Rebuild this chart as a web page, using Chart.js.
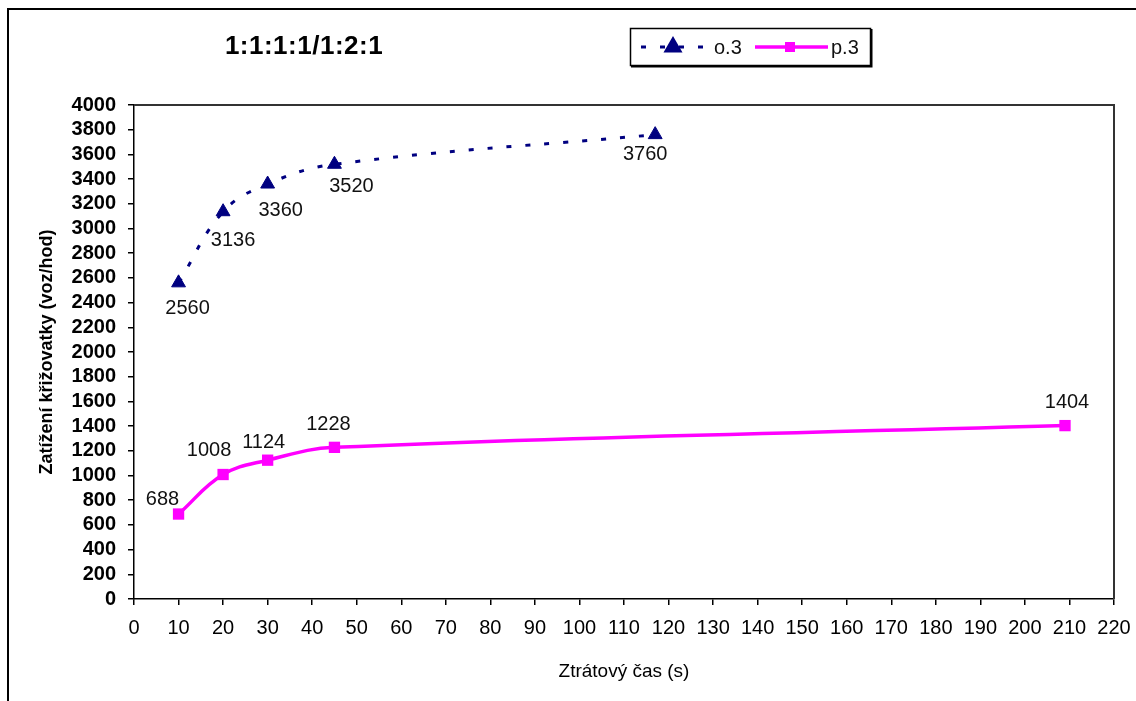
<!DOCTYPE html>
<html>
<head>
<meta charset="utf-8">
<title>1:1:1:1/1:2:1</title>
<script src="https://cdn.jsdelivr.net/npm/chart.js@4.4.1/dist/chart.umd.min.js"></script>
<style>
    html, body { margin: 0; padding: 0; background: #fff; overflow: hidden; }
    #wrap { position: relative; width: 1136px; height: 701px; }
    #frame { position: absolute; left: 7px; top: 8px; width: 1140px; height: 700px;
             border-left: 2px solid #000; border-top: 2px solid #000; }
    canvas { position: absolute; left: 0; top: 0; }
</style>
</head>
<body>
<div id="wrap">
    <div id="frame"></div>
    <canvas id="chart" width="1136" height="701"></canvas>
</div>
<script>
// Values
const o3Time = [10, 20, 30, 45, 117];
const o3Load = [2560, 3136, 3360, 3520, 3760];
const p3Time = [10, 20, 30, 45, 209];
const p3Load = [688, 1008, 1124, 1228, 1404];
const seriesNames = ['o.3', 'p.3'];
const xMin = 0, xMax = 220, xStep = 10;
const yMin = 0, yMax = 4000, yStep = 200;

const chartTitle = '1:1:1:1/1:2:1';
const xTitle = 'Ztrátový čas (s)';
const yTitle = 'Zatížení křižovatky (voz/hod)';

const FONT = '"Liberation Sans", Arial, sans-serif';

// where each value label sits relative to its point (px)
const labelOffsets = [
    [[9, 26], [10, 29], [13, 26], [17, 22], [-10, 20]],
    [[-16, -15], [-14, -24], [-4, -18], [-6, -23], [2, -23]]
];

function toPoints(xs, ys) {
    return xs.map((x, i) => ({ x: x, y: ys[i] }));
}

// Frame around the plot area (top and right edges)
const plotFrame = {
    id: 'plotFrame',
    beforeDatasetsDraw(chart) {
        const a = chart.chartArea;
        const ctx = chart.ctx;
        ctx.save();
        ctx.strokeStyle = '#333';
        ctx.lineWidth = 2;
        ctx.beginPath();
        ctx.moveTo(a.left, a.top);
        ctx.lineTo(a.right, a.top);
        ctx.lineTo(a.right, a.bottom);
        ctx.stroke();
        ctx.restore();
    }
};

// Numbers next to every marker
const valueLabels = {
    id: 'valueLabels',
    afterDatasetsDraw(chart) {
        const ctx = chart.ctx;
        ctx.save();
        ctx.font = '20px ' + FONT;
        ctx.fillStyle = '#111';
        ctx.textAlign = 'center';
        ctx.textBaseline = 'middle';
        chart.data.datasets.forEach((ds, i) => {
            chart.getDatasetMeta(i).data.forEach((pt, j) => {
                const off = labelOffsets[i][j];
                ctx.fillText(String(ds.data[j].y), pt.x + off[0], pt.y + off[1]);
            });
        });
        ctx.restore();
    }
};

// Title and the boxed legend at the top
const header = {
    id: 'header',
    afterDraw(chart) {
        const ctx = chart.ctx;
        const ds = chart.data.datasets;
        ctx.save();

        ctx.font = 'bold 26px ' + FONT;
        ctx.letterSpacing = '0.5px';
        ctx.fillStyle = '#000';
        ctx.textAlign = 'center';
        ctx.textBaseline = 'middle';
        ctx.fillText(chartTitle, 304, 47);
        ctx.letterSpacing = '0px';

        // legend box
        ctx.strokeStyle = '#000';
        ctx.lineWidth = 1.5;
        ctx.strokeRect(630.5, 28.5, 240, 37);
        ctx.lineWidth = 2;
        ctx.beginPath();
        ctx.moveTo(631, 66.5);
        ctx.lineTo(871.5, 66.5);
        ctx.lineTo(871.5, 29);
        ctx.stroke();

        const y = 47;
        // o.3 sample
        ctx.strokeStyle = ds[0].borderColor;
        ctx.lineWidth = 3;
        ctx.setLineDash([5, 14]);
        ctx.lineDashOffset = 0;
        ctx.beginPath();
        ctx.moveTo(641, y);
        ctx.lineTo(711, y);
        ctx.stroke();
        ctx.setLineDash([]);
        Chart.helpers.drawPoint(ctx, { pointStyle: 'triangle', radius: 8, rotation: 0, borderWidth: 1 }, 673, y);
        ctx.fillStyle = ds[0].backgroundColor;
        ctx.fill();

        // p.3 sample
        ctx.strokeStyle = ds[1].borderColor;
        ctx.lineWidth = 3.5;
        ctx.beginPath();
        ctx.moveTo(755, y);
        ctx.lineTo(828, y);
        ctx.stroke();
        ctx.fillStyle = ds[1].backgroundColor;
        ctx.fillRect(785, y - 5, 10, 10);

        ctx.font = '20px ' + FONT;
        ctx.fillStyle = '#111';
        ctx.textAlign = 'left';
        ctx.fillText(seriesNames[0], 714, y + 1);
        ctx.fillText(seriesNames[1], 831, y + 1);
        ctx.restore();
    }
};

new Chart(document.getElementById('chart'), {
    type: 'scatter',
    data: {
        datasets: [
            {
                label: seriesNames[0],
                data: toPoints(o3Time, o3Load),
                showLine: true,
                borderColor: '#000080',
                backgroundColor: '#000080',
                borderWidth: 3,
                borderDash: [5, 14],
                tension: 0.4,
                pointStyle: 'triangle',
                pointRadius: 8,
                pointBorderWidth: 1,
                pointBackgroundColor: '#000080',
                pointBorderColor: '#000080'
            },
            {
                label: seriesNames[1],
                data: toPoints(p3Time, p3Load),
                showLine: true,
                borderColor: '#FF00FF',
                backgroundColor: '#FF00FF',
                borderWidth: 3.5,
                tension: 0.4,
                pointStyle: 'rect',
                pointRadius: 8,
                pointBorderWidth: 0,
                pointBackgroundColor: '#FF00FF',
                pointBorderColor: '#FF00FF'
            }
        ]
    },
    options: {
        responsive: false,
        animation: false,
        devicePixelRatio: 1,
        layout: {
            padding: { left: 10, right: 22, top: 105, bottom: 0 }
        },
        plugins: {
            legend: { display: false },
            tooltip: { enabled: false }
        },
        scales: {
            x: {
                type: 'linear',
                min: xMin,
                max: xMax,
                afterFit: function(scale) {
                    scale.height = 102;
                    scale.paddingLeft = 0;
                    scale.paddingRight = 0;
                },
                border: { color: '#000', width: 1.5 },
                grid: { drawOnChartArea: false, drawTicks: true, tickLength: 6, color: '#000', lineWidth: 1.5 },
                ticks: {
                    stepSize: xStep,
                    autoSkip: false,
                    maxRotation: 0,
                    padding: 13,
                    color: '#000',
                    font: { family: FONT, size: 20, lineHeight: 1 },
                    callback: function(value) { return String(value); }
                },
                title: {
                    display: true,
                    text: xTitle,
                    color: '#000',
                    font: { family: FONT, size: 19 },
                    padding: { top: 18, bottom: 18 }
                }
            },
            y: {
                min: yMin,
                max: yMax,
                afterFit: function(scale) {
                    scale.width = 124;
                    scale.paddingTop = 0;
                    scale.paddingBottom = 0;
                },
                border: { color: '#000', width: 1.5 },
                grid: { drawOnChartArea: false, drawTicks: true, tickLength: 6, color: '#000', lineWidth: 1.5 },
                ticks: {
                    stepSize: yStep,
                    autoSkip: false,
                    padding: 12,
                    color: '#000',
                    font: { family: FONT, size: 20, weight: 'bold', lineHeight: 1 },
                    callback: function(value) { return String(value); }
                },
                title: {
                    display: true,
                    text: yTitle,
                    color: '#000',
                    font: { family: FONT, size: 18, weight: 'bold' },
                    padding: { top: 26, bottom: 26 }
                }
            }
        }
    },
    plugins: [plotFrame, valueLabels, header]
});
</script>
</body>
</html>
